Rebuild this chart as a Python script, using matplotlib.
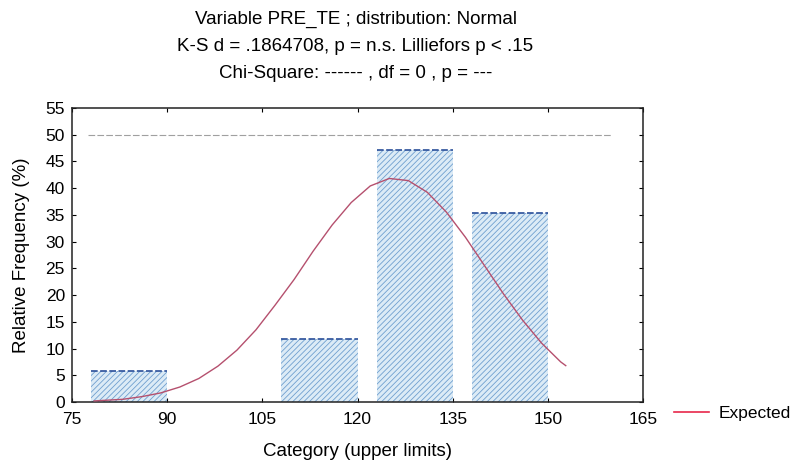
import matplotlib
matplotlib.use("Agg")
import matplotlib.pyplot as plt
from matplotlib.lines import Line2D

plt.rcParams['font.family'] = ['Liberation Sans', 'DejaVu Sans']
plt.rcParams['hatch.linewidth'] = 0.6

# Data
upper_limits = [90, 105, 120, 135, 150]
rel_freq = [5.88, 0.0, 11.76, 47.06, 35.29]
curve_x = [78.5, 80, 83, 86, 89, 92, 95, 98, 101, 104, 107, 110, 113, 116, 119,
           122, 125, 128, 131, 134, 137, 140, 143, 146, 149, 152, 152.8]
curve_y = [0.2, 0.3, 0.5, 1.0, 1.7, 2.8, 4.4, 6.7, 9.7, 13.5, 18.1, 22.9, 28.2, 33.1, 37.3,
           40.4, 41.8, 41.4, 39.2, 35.5, 30.8, 25.5, 20.2, 15.3, 11.0, 7.5, 6.8]
xticks = [75, 90, 105, 120, 135, 150, 165]
yticks = list(range(0, 60, 5))
title_lines = ["Variable PRE_TE ; distribution: Normal",
               "K-S d = .1864708, p = n.s. Lilliefors p < .15",
               "Chi-Square: ------ , df = 0 , p = ---"]

fig = plt.figure(figsize=(7.99, 4.61), dpi=100)
ax = fig.add_axes([0.090, 0.128, 0.715, 0.638])

bar_w = 12
centers = [u - bar_w / 2 for u in upper_limits]
ax.bar(centers, rel_freq, width=bar_w, color='#dcebf6', edgecolor='#6f9fcf',
       hatch='//////', linewidth=0.0, zorder=2)
for c, h in zip(centers, rel_freq):
    if h > 0:
        ax.plot([c - bar_w / 2, c + bar_w / 2], [h, h], color='#2a4f9a', lw=1.2,
                ls=(0, (4, 1.5)), zorder=3)

ax.hlines(50, 77.5, 160, colors='#a0a0a0', linestyles=(0, (6, 2)), lw=0.8, zorder=1)

ax.plot(curve_x, curve_y, color='#b5506e', lw=1.0, zorder=4)

ax.set_xlim(75, 165)
ax.set_ylim(0, 55)
ax.set_xticks(xticks)
ax.set_yticks(yticks)
ax.tick_params(direction='in', length=3, labelsize=12.5, top=True, right=True)
ax.tick_params(axis='x', pad=7)
ax.tick_params(axis='y', pad=5)
for s in ax.spines.values():
    s.set_linewidth(1.1)
    s.set_color('#222222')

ax.set_xlabel("Category (upper limits)", fontsize=13.5, labelpad=12)
ax.set_ylabel("Relative Frequency (%)", fontsize=13.5, labelpad=11)

for i, t in enumerate(title_lines):
    fig.text(0.445, 0.957 - i * 0.058, t, ha='center', va='center', fontsize=13.5)

handle = Line2D([], [], color='#e8284a', lw=1.2)
fig.legend([handle], ["Expected"], loc='center left', bbox_to_anchor=(0.844, 0.104),
           frameon=False, fontsize=12.5, handlelength=2.0, handletextpad=0.55,
           borderpad=0, borderaxespad=0)

fig.savefig("out.png", dpi=100)
